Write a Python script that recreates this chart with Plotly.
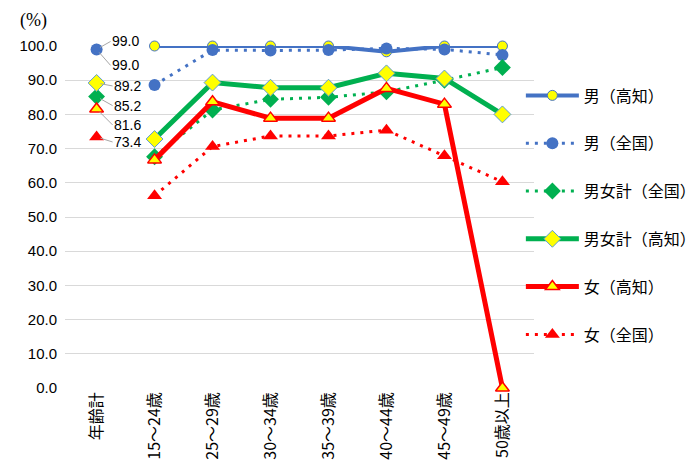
import plotly.graph_objects as go

categories = ["年齢計", "15～24歳", "25～29歳", "30～34歳", "35～39歳", "40～44歳", "45～49歳", "50歳以上"]

male_kochi = [99.0, 100.0, 100.0, 100.0, 100.0, 98.3, 100.0, 100.0]
male_national = [99.0, 88.6, 98.8, 98.7, 98.8, 99.3, 99.0, 97.4]
total_national = [85.2, 67.6, 81.3, 84.4, 85.0, 86.6, 90.0, 93.7]
total_kochi = [89.2, 72.8, 89.3, 87.8, 87.8, 92.0, 90.5, 80.0]
female_kochi = [81.6, 66.7, 83.7, 78.9, 78.9, 87.6, 83.0, 0.0]
female_national = [73.4, 56.2, 70.6, 73.7, 73.7, 75.4, 67.9, 60.3]

y_ticks = [0, 10, 20, 30, 40, 50, 60, 70, 80, 90, 100]

BLUE = "#4472C4"
GREEN = "#00B050"
RED = "#FF0000"
YELLOW = "#FFFF00"
FONT = "Noto Sans CJK JP"

series = [
    dict(name="男（高知）", y=male_kochi, color=BLUE, width=4, dash="solid",
         marker=dict(symbol="circle", size=10, color=YELLOW, line=dict(color=BLUE, width=1))),
    dict(name="男（全国）", y=male_national, color=BLUE, width=3, dash="3px,6px",
         marker=dict(symbol="circle", size=12, color=BLUE, line=dict(color=BLUE, width=0))),
    dict(name="男女計（全国）", y=total_national, color=GREEN, width=3, dash="3px,6px",
         marker=dict(symbol="diamond", size=13, color=GREEN, line=dict(color=GREEN, width=0))),
    dict(name="男女計（高知）", y=total_kochi, color=GREEN, width=5, dash="solid",
         marker=dict(symbol="diamond", size=13, color=YELLOW, line=dict(color="#5B9BD5", width=1))),
    dict(name="女（高知）", y=female_kochi, color=RED, width=5, dash="solid",
         marker=dict(symbol="triangle-up", size=12, color=YELLOW, line=dict(color=RED, width=1.5))),
    dict(name="女（全国）", y=female_national, color=RED, width=3, dash="3px,6px",
         marker=dict(symbol="triangle-up", size=13, color=RED, line=dict(color=RED, width=0))),
]

fig = go.Figure()
for i, s in enumerate(series):
    fig.add_trace(go.Scatter(
        x=categories[1:], y=s["y"][1:], name=s["name"], mode="lines+markers",
        line=dict(color=s["color"], width=s["width"], dash=s["dash"]),
        marker=s["marker"], cliponaxis=False, legendgroup=f"g{i}",
    ))
for i, s in enumerate(series):
    fig.add_trace(go.Scatter(
        x=categories[:1], y=s["y"][:1], mode="markers", showlegend=False,
        marker=s["marker"], cliponaxis=False, legendgroup=f"g{i}",
    ))

# data labels at 年齢計 with leader lines
label_offsets = [(14, -8), (14, 16), (16, 9), (16, 3), (16, 16), (16, 5)]
for s, (ax, ay) in zip(series, label_offsets):
    fig.add_annotation(
        x=categories[0], y=s["y"][0], text=f"{s['y'][0]:.1f}",
        showarrow=True, arrowhead=0, arrowwidth=1, arrowcolor="#A6A6A6",
        ax=ax, ay=ay, xanchor="left", standoff=4, borderpad=0,
        font=dict(family="Liberation Sans", size=14, color="#000000"),
    )

fig.add_annotation(
    x=-0.068, y=1.076, xref="paper", yref="paper", text="(%)", showarrow=False,
    xanchor="center", yanchor="middle",
    font=dict(family="Liberation Serif", size=18, color="#000000"),
)

fig.update_layout(
    width=720, height=463,
    margin=dict(l=57, r=194, t=38, b=83),
    paper_bgcolor="white", plot_bgcolor="white",
    font=dict(family=FONT, color="#000000"),
    showlegend=True,
    legend=dict(
        x=0.972, xanchor="left", y=0.905, yanchor="top",
        font=dict(family=FONT, size=16, color="#000000"),
        itemwidth=53, tracegroupgap=24, bgcolor="rgba(0,0,0,0)",
    ),
)
fig.update_xaxes(
    type="category", categoryorder="array", categoryarray=categories,
    tickangle=-90, showgrid=False, showline=False, zeroline=False,
    ticks="", automargin=False,
    tickfont=dict(family=FONT, size=16, color="#000000"),
)
fig.update_yaxes(
    range=[0, 100], tickvals=y_ticks, tickformat=".1f",
    showgrid=True, gridcolor="#D9D9D9", gridwidth=1,
    zeroline=False, showline=False, ticks="", automargin=False,
    ticklabelstandoff=7,
    tickfont=dict(family="Liberation Sans", size=15, color="#000000"),
)

fig.write_html("out.html")
